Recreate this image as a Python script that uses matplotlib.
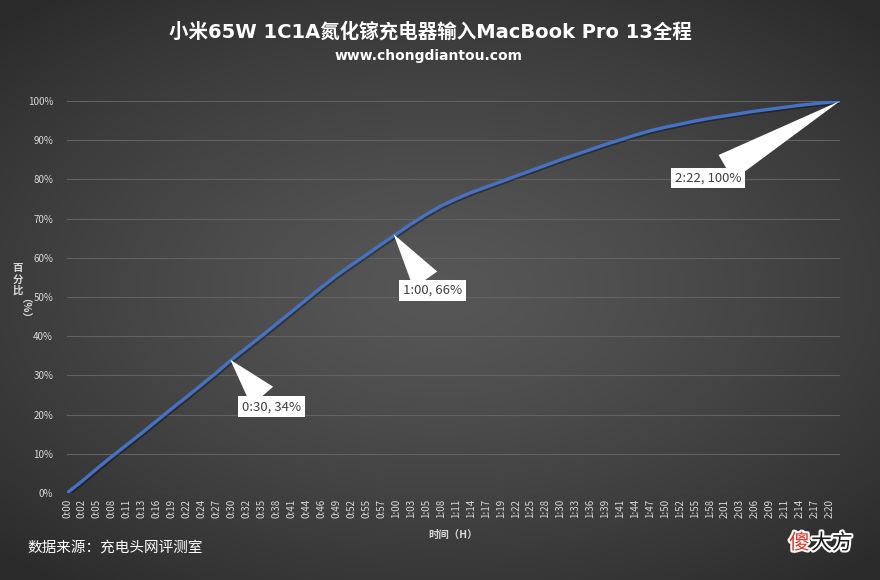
import numpy as np
import matplotlib.pyplot as plt
from matplotlib import patheffects as pe

plt.rcParams['font.family'] = ['Noto Sans CJK SC', 'DejaVu Sans']

# x-axis labels (one labelled sample every ~2.75 min)
tick_labels = ['0:00', '0:02', '0:05', '0:08', '0:11', '0:13', '0:16', '0:19', '0:22', '0:24',
               '0:27', '0:30', '0:32', '0:35', '0:38', '0:41', '0:44', '0:46', '0:49', '0:52',
               '0:55', '0:57', '1:00', '1:03', '1:05', '1:08', '1:11', '1:14', '1:17', '1:19',
               '1:22', '1:25', '1:28', '1:30', '1:33', '1:36', '1:39', '1:41', '1:44', '1:47',
               '1:50', '1:52', '1:55', '1:58', '2:01', '2:03', '2:06', '2:09', '2:11', '2:14',
               '2:17', '2:20']
# battery percentage at each labelled sample
charge_pct = [0, 3.0, 6.2, 9.3, 12.3, 15.3, 18.4, 21.5, 24.5, 27.6,
              30.7, 34.0, 37.0, 40.0, 43.1, 46.2, 49.3, 52.4, 55.4, 58.1,
              60.7, 63.4, 66.0, 68.6, 71.0, 73.2, 75.0, 76.6, 78.0, 79.4,
              80.8, 82.2, 83.6, 85.0, 86.3, 87.6, 88.9, 90.1, 91.3, 92.4,
              93.3, 94.1, 94.9, 95.6, 96.2, 96.8, 97.4, 97.9, 98.4, 98.9,
              99.3, 99.7]
end_time = '2:22'
end_pct = 100
step_min = 2.747  # minutes between labelled samples

callouts = [('0:30', 34), ('1:00', 66), ('2:22', 100)]
callout_offsets = [(41, -47), (39, -56), (-132, -77)]  # pixels


def to_min(s):
    h, m = s.split(':')
    return int(h) * 60 + int(m)


tick_pos = np.arange(len(tick_labels)) * step_min
x = np.append(tick_pos, to_min(end_time))
y = np.append(charge_pct, end_pct)

fig = plt.figure(figsize=(8.8, 5.8), dpi=100)

# radial grey background
bg = fig.add_axes([0, 0, 1, 1], zorder=-10)
gx, gy = np.meshgrid(np.linspace(-1, 1, 880), np.linspace(-1, 1, 580))
r = np.sqrt((gx * 0.95) ** 2 + (gy * 1.05) ** 2)
shade = 0.34 - 0.17 * np.clip(r / 1.35, 0, 1) ** 1.3
bg.imshow(np.dstack([shade] * 3), aspect='auto', extent=[0, 1, 0, 1])
bg.axis('off')

ax = fig.add_axes([67 / 880, 87 / 580, 773 / 880, 392 / 580])
ax.patch.set_alpha(0)
ax.plot(x, y, color='#4472C4', linewidth=2.4, solid_capstyle='round',
        path_effects=[pe.SimpleLineShadow(offset=(1, -1), alpha=0.35), pe.Normal()])

ax.set_xlim(0, to_min(end_time))
ax.set_ylim(0, 100)
ax.set_yticks(np.arange(0, 101, 10))
ax.set_yticklabels([f'{v}%' for v in range(0, 101, 10)])
ax.set_xticks(tick_pos)
ax.set_xticklabels(tick_labels, rotation=90)
ax.grid(axis='y', color='#626262', linewidth=0.8)
ax.set_axisbelow(True)
for s in ax.spines.values():
    s.set_visible(False)
ax.tick_params(axis='both', length=0, colors='#d9d9d9', labelsize=7)
ax.tick_params(axis='y', pad=10)
ax.tick_params(axis='x', pad=4)

for (t, p), (dx, dy) in zip(callouts, callout_offsets):
    ax.annotate(f'{t}, {p}%', xy=(to_min(t), p), xytext=(dx, dy), textcoords='offset pixels',
                ha='center', va='center', fontsize=9.5, color='#404040',
                bbox=dict(boxstyle='square,pad=0.3', fc='white', ec='none'),
                arrowprops=dict(arrowstyle='wedge,tail_width=2.2,shrink_factor=0.5',
                                fc='white', ec='none', shrinkA=0, shrinkB=0))

fig.text(430 / 880, 1 - 32 / 580, '小米65W 1C1A氮化镓充电器输入MacBook Pro 13全程',
         ha='center', va='center', fontsize=14, fontweight='bold', color='white',
         family=['DejaVu Sans', 'Noto Sans CJK SC'])
fig.text(429 / 880, 1 - 56 / 580, 'www.chongdiantou.com', ha='center', va='center',
         fontsize=10, fontweight='bold', color='white', family='DejaVu Sans')

# stacked vertical axis title
for i, ch in enumerate('百分比'):
    fig.text(18 / 880, 1 - (268 + i * 11.5) / 580, ch, ha='center', va='center',
             fontsize=7.5, fontweight='bold', color='#d9d9d9')
fig.text(18 / 880, 1 - 313 / 580, '（%）', ha='center', va='center', fontsize=7.5,
         fontweight='bold', color='#d9d9d9', rotation=-90)
fig.text(453 / 880, 1 - 535 / 580, '时间（H）', ha='center', va='center', fontsize=7.5,
         fontweight='bold', color='#d9d9d9')
fig.text(27 / 880, 1 - 548 / 580, '数据来源：充电头网评测室', ha='left', va='center',
         fontsize=10.5, color='white')

stroke = [pe.withStroke(linewidth=3, foreground='white')]
fig.text(789 / 880, 1 - 543 / 580, '傻', ha='left', va='center', fontsize=15,
         color='#e8321e', path_effects=stroke)
fig.text(811 / 880, 1 - 543 / 580, '大方', ha='left', va='center', fontsize=15,
         color='#1a1a1a', path_effects=stroke)

fig.savefig('out.png', dpi=100)
